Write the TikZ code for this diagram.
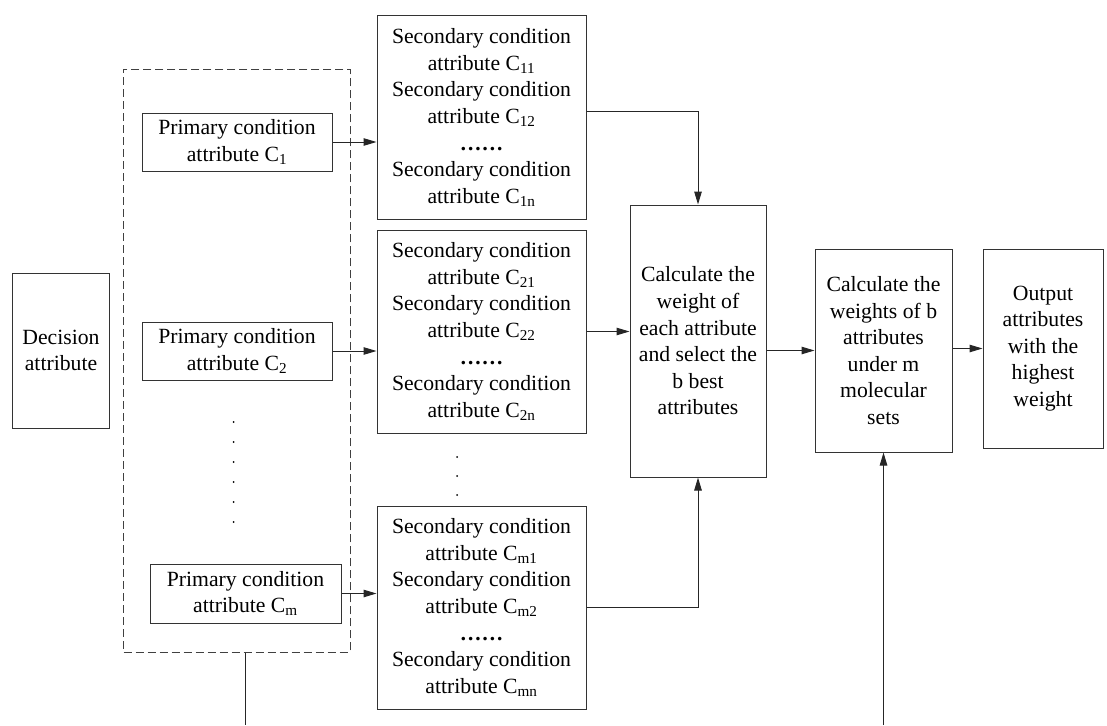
\documentclass[tikz,border=0pt]{standalone}
\usepackage{fontspec}
\setmainfont{Liberation Serif}
\usetikzlibrary{arrows.meta}
\begin{document}
\begin{tikzpicture}[x=1pt,y=-1pt,
  every node/.style={font=\fontsize{21.7}{26.6}\selectfont},
  box/.style={draw=black!80, line width=1pt, rectangle, inner sep=0pt, align=center},
  grpbox/.style={draw=black!75, line width=1pt, dash pattern=on 8pt off 4pt, rectangle, inner sep=0pt},
  conn/.style={draw=black!85, line width=1pt},
  arr/.style={conn, -{Triangle[length=13pt,width=7.5pt]}},
  dotm/.style={fill=black}
]
\useasboundingbox (0,0) rectangle (1107,725);

% group (dashed)
\node[grpbox, minimum width=226.4pt, minimum height=583pt] (grp) at (236.8,360.5) {};

% decision
\node[box, minimum width=97.5pt, minimum height=155pt] (dec) at (61,350.5) {Decision\\attribute};

% primary
\node[box, minimum width=190pt, minimum height=58pt] (p1) at (237,142) {Primary condition\\attribute C\textsubscript{1}};
\node[box, minimum width=190pt, minimum height=58pt] (p2) at (237,351) {Primary condition\\attribute C\textsubscript{2}};
\node[box, minimum width=191pt, minimum height=59pt] (pm) at (245.5,593.5) {Primary condition\\attribute C\textsubscript{m}};

% secondary
\node[box, minimum width=209pt, minimum height=203pt] (s1) at (481.5,117.5) {Secondary condition\\attribute C\textsubscript{11}\\Secondary condition\\attribute C\textsubscript{12}\\\textbf{……}\\Secondary condition\\attribute C\textsubscript{1n}};
\node[box, minimum width=209pt, minimum height=203pt] (s2) at (481.5,331.5) {Secondary condition\\attribute C\textsubscript{21}\\Secondary condition\\attribute C\textsubscript{22}\\\textbf{……}\\Secondary condition\\attribute C\textsubscript{2n}};
\node[box, minimum width=209pt, minimum height=203pt] (s3) at (481.5,607.5) {Secondary condition\\attribute C\textsubscript{m1}\\Secondary condition\\attribute C\textsubscript{m2}\\\textbf{……}\\Secondary condition\\attribute C\textsubscript{mn}};

% calculation boxes
\node[box, minimum width=136pt, minimum height=272pt] (c1) at (698,341) {Calculate the\\weight of\\each attribute\\and select the\\b best\\attributes};
\node[box, minimum width=137pt, minimum height=203pt] (c2) at (883.5,350.5) {Calculate the\\weights of b\\attributes\\under m\\molecular\\sets};
\node[box, minimum width=120pt, minimum height=199pt] (out) at (1043,348.5) {Output\\attributes\\with the\\highest\\weight};

% dots
\foreach \yy in {422,442,462,482,502,522} \fill[dotm] (233.6,\yy) circle (1pt);
\foreach \yy in {457,476,495} \fill[dotm] (457,\yy) circle (1pt);

% free ends
\coordinate (b1) at (245,725);
\coordinate (b2) at (883.5,725);

% connectors
\draw[arr] (p1.east) -- (p1.east -| s1.west);
\draw[arr] (p2.east) -- (p2.east -| s2.west);
\draw[arr] (pm.east) -- (pm.east -| s3.west);
\draw[arr] ([yshift=6.5pt]s1.east) -| (c1.north);
\draw[arr] (s2.east) -- (s2.east -| c1.west);
\draw[arr] (s3.east) -| (c1.south);
\draw[arr] (c1.east |- c2.west) -- (c2.west);
\draw[arr] (c2.east |- out.west) -- (out.west);
\draw[conn] (grp.south -| b1) -- (b1);
\draw[arr] (b2) -- (c2.south);
\end{tikzpicture}
\end{document}
